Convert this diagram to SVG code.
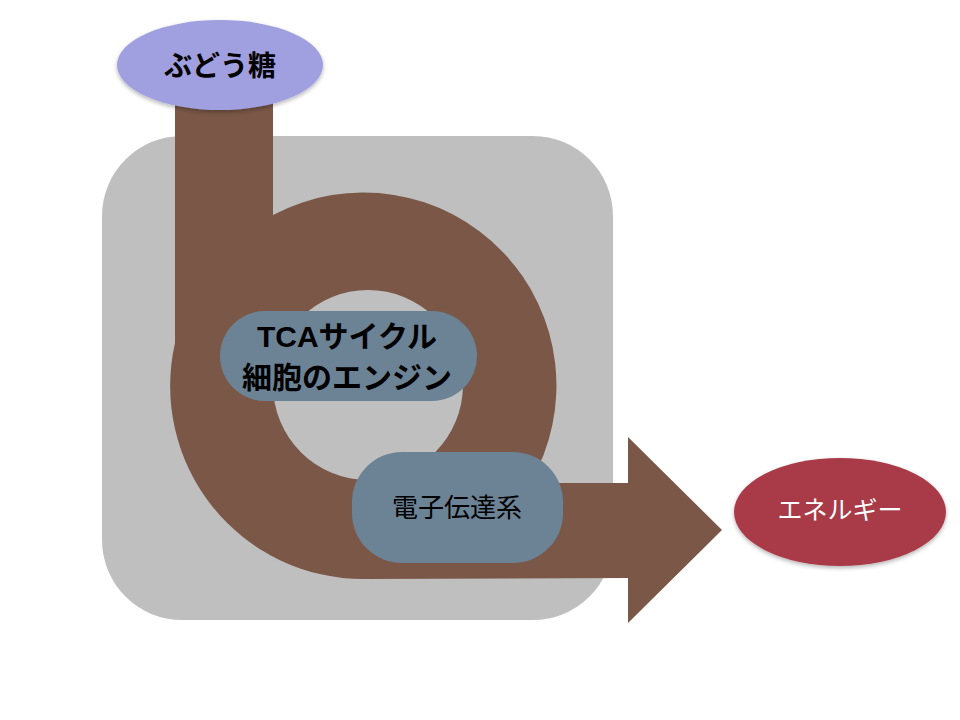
<svg xmlns="http://www.w3.org/2000/svg" width="960" height="720" viewBox="0 0 960 720">
  <defs>
    <style>
      .t { font-family: "Liberation Sans", "Noto Sans CJK JP", sans-serif; text-anchor: middle; }
      .dark { fill: #000000; }
      .box { fill: #6C8396; }
    </style>
    <filter id="sh" x="-20%" y="-20%" width="140%" height="150%">
      <feGaussianBlur in="SourceAlpha" stdDeviation="2"/>
      <feOffset dy="2"/>
      <feComponentTransfer><feFuncA type="linear" slope="0.3"/></feComponentTransfer>
      <feMerge><feMergeNode/><feMergeNode in="SourceGraphic"/></feMerge>
    </filter>
  </defs>
  <rect width="960" height="720" fill="#FFFFFF"/>
  <g id="cell">
    <rect x="102" y="136" width="511" height="484" rx="80" ry="80" fill="#BFBFBF"/>
  </g>
  <g id="connectors">
    <path fill="#7A5747" fill-rule="evenodd" d="M175,100 H273 V215 A193,193 0 0,1 530,483 L628,483 L628,437 L722,530 L628,623 L628,578 L364,579 A193,193 0 0,1 175,343 Z M463,385 A95,95 0 1,0 273,385 A95,95 0 1,0 463,385 Z"/>
  </g>
  <g id="glucose">
    <ellipse cx="220" cy="65" rx="103" ry="45" fill="#A0A0E0" filter="url(#sh)"/>
    <text class="t dark" x="220" y="76" font-size="28" font-weight="bold">ぶどう糖</text>
  </g>
  <g id="tca">
    <rect class="box" x="220" y="311" width="257" height="90" rx="45" ry="45"/>
    <text class="t dark" x="347" y="347" font-size="30" font-weight="bold">TCAサイクル</text>
    <text class="t dark" x="347" y="388" font-size="30" font-weight="bold">細胞のエンジン</text>
  </g>
  <g id="etc">
    <rect class="box" x="352" y="452" width="211" height="111" rx="50" ry="50"/>
    <text class="t dark" x="457" y="517" font-size="26">電子伝達系</text>
  </g>
  <g id="energy">
    <ellipse cx="840" cy="512" rx="106" ry="54" fill="#A83B47" filter="url(#sh)"/>
    <text class="t" x="840" y="519" font-size="25" fill="#FFFFFF">エネルギー</text>
  </g>
</svg>
